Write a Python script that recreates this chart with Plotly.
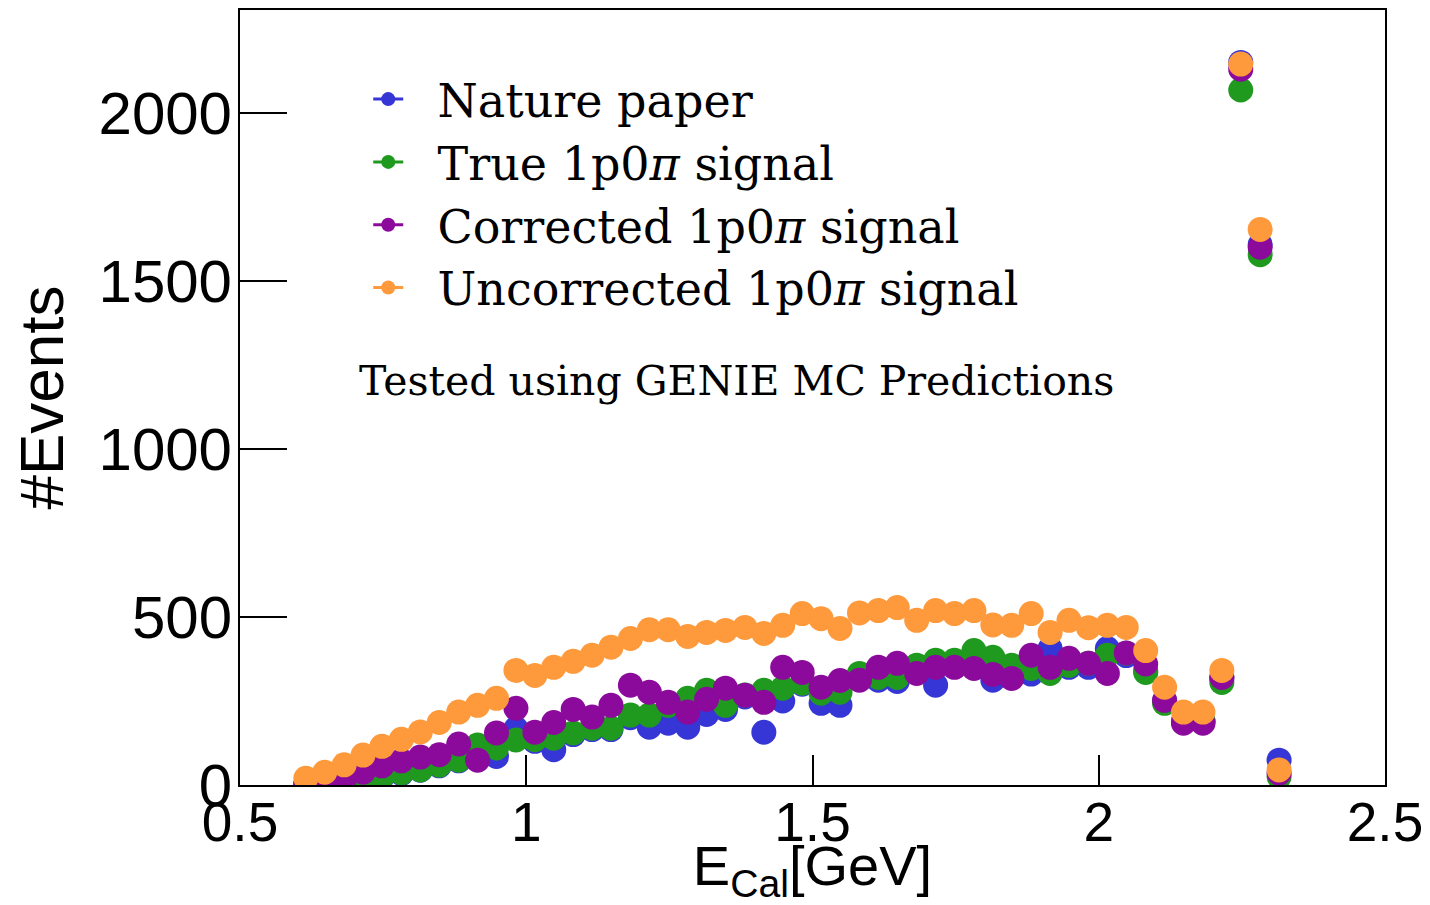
import plotly.graph_objects as go

# Bin centres of E_Cal [GeV]
e_cal = [0.615, 0.648, 0.682, 0.715, 0.748, 0.782, 0.815, 0.848, 0.882, 0.915,
         0.948, 0.982, 1.015, 1.048, 1.082, 1.115, 1.148, 1.182, 1.215, 1.248,
         1.282, 1.315, 1.348, 1.382, 1.415, 1.448, 1.482, 1.515, 1.548, 1.582,
         1.615, 1.648, 1.682, 1.715, 1.748, 1.782, 1.815, 1.848, 1.882, 1.915,
         1.948, 1.982, 2.015, 2.048, 2.082, 2.115, 2.148, 2.182, 2.215, 2.248,
         2.282, 2.315]

nature_paper = [2, 4, 5, 9, 22, 34, 44, 57, 72, 105, 85, 168, 130, 105, 150, 165,
                165, 200, 172, 184, 172, 210, 225, 262, 157, 250, 300, 243, 237, 320,
                312, 308, 350, 297, 360, 385, 312, 350, 330, 406, 350, 350, 406, 385,
                340, 250, 190, 190, 318, 2150, 1608, 74]

true_signal = [2, 4, 5, 9, 24, 36, 45, 59, 74, 119, 110, 134, 135, 139, 155, 169,
               169, 208, 208, 237, 258, 282, 237, 268, 282, 288, 303, 273, 276, 332,
               320, 320, 356, 371, 371, 400, 380, 356, 347, 332, 356, 362, 386, 392,
               335, 243, 190, 190, 305, 2068, 1578, 24]

corrected_signal = [3, 8, 15, 38, 57, 72, 83, 90, 122, 74, 155, 228, 157, 186, 225, 202,
                    237, 297, 276, 246, 217, 255, 288, 267, 246, 350, 335, 291, 311, 312,
                    350, 362, 332, 350, 350, 347, 329, 317, 386, 350, 377, 362, 332, 393,
                    360, 252, 184, 184, 320, 2130, 1600, 35]

uncorrected_signal = [20, 38, 60, 89, 115, 136, 158, 186, 217, 237, 258, 341, 326, 350,
                      368, 386, 410, 436, 462, 462, 442, 454, 460, 469, 451, 475, 510,
                      495, 466, 512, 519, 528, 490, 519, 510, 519, 476, 475, 510, 454,
                      490, 468, 475, 469, 400, 291, 217, 217, 341, 2145, 1653, 45]

series_names = ["Nature paper", "True 1p0<i>π</i> signal",
                "Corrected 1p0<i>π</i> signal", "Uncorrected 1p0<i>π</i> signal"]
series_values = [nature_paper, true_signal, corrected_signal, uncorrected_signal]
series_colors = ["#3636d6", "#1f9a1f", "#8b0a9b", "#fe9a3c"]

x_ticks = [0.5, 1, 1.5, 2, 2.5]
x_tick_labels = ["0.5", "1", "1.5", "2", "2.5"]
y_ticks = [0, 500, 1000, 1500, 2000]
y_tick_labels = ["0", "500", "1000", "1500", "2000"]

fig = go.Figure()

for name, vals, col in zip(series_names, series_values, series_colors):
    fig.add_trace(go.Scatter(
        x=e_cal, y=vals, mode="markers", name=name, showlegend=False,
        marker=dict(color=col, size=25, line=dict(width=0)),
    ))

# legend entries (line + marker like the ROOT "lp" style)
pad = "\u00a0\u00a0"
for name, col in zip(series_names, series_colors):
    fig.add_trace(go.Scatter(
        x=[None], y=[None], mode="lines+markers", name=pad + name,
        line=dict(color=col, width=3),
        marker=dict(color=col, size=14),
    ))

fig.update_layout(
    width=1430, height=905,
    margin=dict(l=240, r=45, t=10, b=120, autoexpand=False),
    paper_bgcolor="white", plot_bgcolor="white",
    font=dict(family="Liberation Sans, Arial, sans-serif", color="black"),
    showlegend=True,
    legend=dict(
        x=0.112, y=0.932, xanchor="left", yanchor="top",
        bgcolor="rgba(0,0,0,0)", borderwidth=0,
        font=dict(family="DejaVu Serif, serif", size=46, color="black"),
        itemsizing="trace", tracegroupgap=0,
    ),
    xaxis=dict(
        range=[0.5, 2.5], tickvals=x_ticks, ticktext=x_tick_labels,
        ticks="inside", ticklen=30, tickwidth=2, tickcolor="black",
        showline=True, linecolor="black", linewidth=2, mirror=True,
        showgrid=False, zeroline=False, ticklabelstandoff=-12,
        tickfont=dict(size=55, family="Liberation Sans, Arial, sans-serif"),
        title=dict(text="E<sub>Cal</sub>[GeV]", standoff=12,
                   font=dict(size=56, family="Liberation Sans, Arial, sans-serif")),
        automargin=False,
    ),
    yaxis=dict(
        range=[0, 2306], tickvals=y_ticks, ticktext=y_tick_labels,
        ticks="inside", ticklen=47, tickwidth=2, tickcolor="black",
        showline=True, linecolor="black", linewidth=2, mirror=True,
        showgrid=False, zeroline=False, ticklabelstandoff=-6,
        tickfont=dict(size=60, family="Liberation Sans, Arial, sans-serif"),
        title=dict(text="#Events", standoff=15,
                   font=dict(size=62, family="Liberation Sans, Arial, sans-serif")),
        automargin=False,
    ),
    annotations=[dict(
        text="Tested using GENIE MC Predictions",
        x=0.102, y=0.521, xref="paper", yref="paper",
        xanchor="left", yanchor="middle", showarrow=False,
        font=dict(family="DejaVu Serif, serif", size=41, color="black"),
    )],
)

fig.write_html("out.html")
